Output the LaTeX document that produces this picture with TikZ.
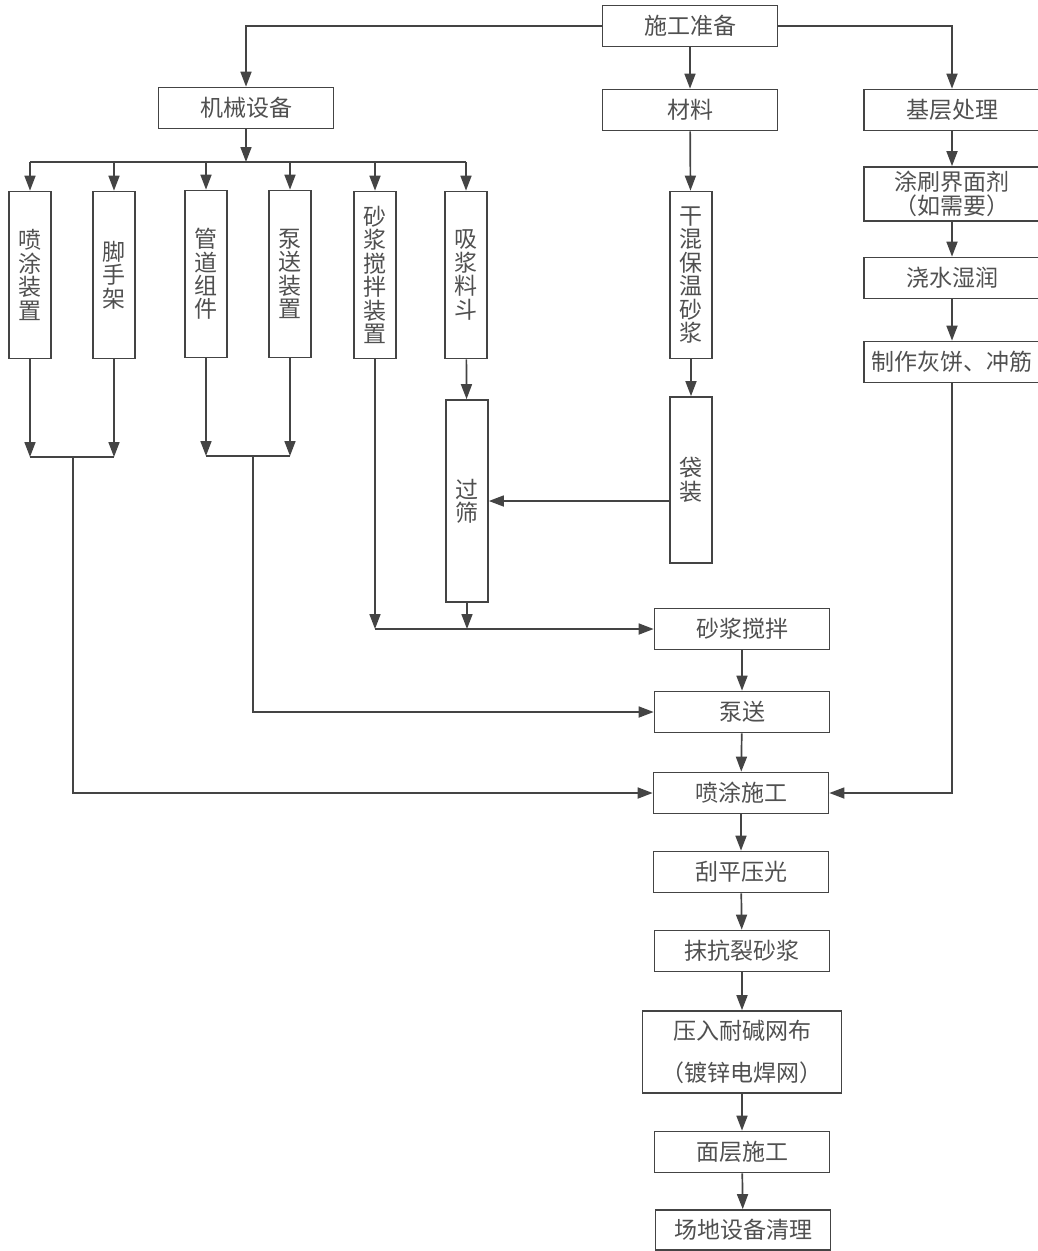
\documentclass[tikz,border=0pt]{standalone}
\usepackage{fontspec}
\setmainfont{Noto Sans CJK SC}
\usetikzlibrary{arrows.meta,positioning}
\definecolor{fcLine}{RGB}{68,68,68}
\definecolor{fcText}{RGB}{80,80,80}

\begin{document}
\begin{tikzpicture}[x=1pt,y=-1pt,
  >={Triangle[length=15pt,width=11pt]},
  every node/.style={font=\fontsize{23}{23.4}\selectfont,text=fcText},
  box/.style={draw=fcLine,line width=1.7pt,minimum width=175pt,
              minimum height=41pt,inner sep=0pt,align=center},
  vbox/.style={box,minimum width=42pt,minimum height=167pt},
  link/.style={draw=fcLine,line width=1.7pt},
  arr/.style={link,->}
]
\useasboundingbox (0,0) rectangle (1037,1251);

% top row
\node[box] (prep) at (690,26)  {施工准备};
\node[box] (mach) at (246,108) {机械设备};
\node[box] (mat)  at (690,110) {材料};
\node[box,minimum width=176pt] (base) at (952,110) {基层处理};

% equipment columns
\node[vbox] (spray)   at (30,275)  {喷\\涂\\装\\置};
\node[vbox] (scaf)    at (114,275) {脚\\手\\架};
\node[vbox] (pipe)    at (206,274) {管\\道\\组\\件};
\node[vbox] (pumpdev) at (290,274) {泵\\送\\装\\置};
\node[vbox] (mixdev)  at (375,275) {砂\\浆\\搅\\拌\\装\\置};
\node[vbox] (hopper)  at (466,275) {吸\\浆\\料\\斗};
\node[vbox,minimum height=202pt] (sieve) at (467,501) {过\\筛};

% material column
\node[vbox] (dry) at (691,275) {干\\混\\保\\温\\砂\\浆};
\node[vbox,minimum height=166pt] (bag) at (691,480) {袋\\装};

% base treatment column
\node[box,minimum width=176pt,minimum height=54pt] (coat) at (952,194)
   {涂刷界面剂\\（如需要）};
\node[box,minimum width=176pt] (wet)  at (952,278) {浇水湿润};
\node[box,minimum width=176pt] (mark) at (952,362) {制作灰饼、冲筋};

% main process
\node[box] (mix)    at (742,629)  {砂浆搅拌};
\node[box] (pump)   at (742,712)  {泵送};
\node[box] (apply)  at (741,793)  {喷涂施工};
\node[box] (level)  at (741,872)  {刮平压光};
\node[box] (crack)  at (742,951)  {抹抗裂砂浆};
\node[box,minimum width=199pt,minimum height=82pt] (mesh) at (742,1052)
   {压入耐碱网布\\[18pt]（镀锌电焊网）};
\node[box] (finish) at (742,1152) {面层施工};
\node[box,minimum height=40pt] (clean) at (743,1230) {场地设备清理};

\coordinate (busM) at (0,162);
\coordinate (j1) at (73,457);
\coordinate (j2) at (253,456);

% from preparation
\draw[arr] (prep.west) -| (mach.north);
\draw[arr] (prep.east) -| (base.north);
\draw[arr] (prep) -- (mat);

% machinery bus
\draw[arr] (mach.south) -- (mach.south |- busM);
\draw[link] (spray.north |- busM) -- (hopper.north |- busM);
\foreach \n in {spray,scaf,pipe,pumpdev,mixdev,hopper}
  \draw[arr] (\n.north |- busM) -- (\n.north);

% joins below the columns
\draw[arr] (spray.south) -- (spray.south |- j1);
\draw[arr] (scaf.south) -- (scaf.south |- j1);
\draw[link] (spray.south |- j1) -- (scaf.south |- j1);
\draw[arr] (j1) |- (apply.west);
\draw[arr] (pipe.south) -- (pipe.south |- j2);
\draw[arr] (pumpdev.south) -- (pumpdev.south |- j2);
\draw[link] (pipe.south |- j2) -- (pumpdev.south |- j2);
\draw[arr] (j2) |- (pump.west);

% mixing feed
\draw[arr] (mixdev.south) -- (mixdev.south |- mix.west);
\draw[arr] (hopper) -- (sieve);
\draw[arr] (sieve.south) -- (sieve.south |- mix.west);
\draw[arr] (mixdev.south |- mix.west) -- (mix.west);

% material
\draw[arr] (mat) -- (dry);
\draw[arr] (dry) -- (bag);
\draw[arr] (bag.west |- sieve.east) -- (sieve.east);

% base treatment
\draw[arr] (base) -- (coat);
\draw[arr] (coat) -- (wet);
\draw[arr] (wet) -- (mark);
\draw[arr] (mark.south) |- (apply.east);

% main chain
\draw[arr] (mix) -- (pump);
\draw[arr] (pump) -- (apply);
\draw[arr] (apply) -- (level);
\draw[arr] (level) -- (crack);
\draw[arr] (crack) -- (mesh);
\draw[arr] (mesh) -- (finish);
\draw[arr] (finish) -- (clean);
\end{tikzpicture}
\end{document}
